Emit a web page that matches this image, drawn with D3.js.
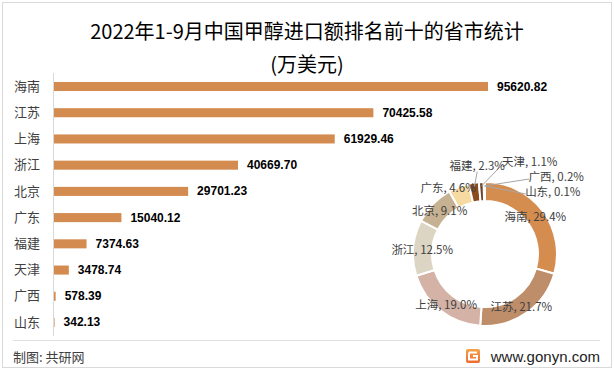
<!DOCTYPE html>
<html>
<head>
<meta charset="utf-8">
<script src="https://cdn.jsdelivr.net/npm/d3@7"></script>
<style>
  body { margin: 0; background: #fff; }
  svg { display: block; }
</style>
</head>
<body>
<div id="chart"></div>
<script>
/////////////////////////////////////////////////
/* Data */
/////////////////////////////////////////////////
const provinces = ["海南", "江苏", "上海", "浙江", "北京", "广东", "福建", "天津", "广西", "山东"];
const importValues = [95620.82, 70425.58, 61929.46, 40669.70, 29701.23, 15040.12, 7374.63, 3478.74, 578.39, 342.13];
const donutColors = ["#D58C4F", "#BE8D6A", "#D4B2A5", "#DDD5C3", "#C6B192", "#F7DAA2", "#8C4B1D", "#6E4224", "#A86B3C", "#C9A27E"];

const titleText = "2022年1-9月中国甲醇进口额排名前十的省市统计";
const unitText = "(万美元)";
const sourceText = "制图: 共研网";
const siteText = "www.gonyn.com";

/////////////////////////////////////////////////
/* Layout */
/////////////////////////////////////////////////
const W = 614, H = 371;
const FONT = "'Noto Sans CJK SC', 'Noto Sans', sans-serif";
const BAR_COLOR = "#D48B50";
const TEXT_COLOR = "#404040";

// label nudges for the crowded small slices (px from ring centroid)
const labelNudge = {
  "广东": {dx: -14, dy: -8},
  "福建": {dx: 2, dy: -27, lead: "bottom"},
  "天津": {dx: 48, dy: -30, lead: "left"},
  "广西": {dx: 72, dy: -15, lead: "left"},
  "山东": {dx: 68, dy: 0, lead: "left"}
};

const svg = d3.select("#chart").append("svg")
  .attr("width", W)
  .attr("height", H);

// outer frame
svg.append("rect")
  .attr("x", 2.5).attr("y", 2.5)
  .attr("width", W - 5).attr("height", H - 6)
  .attr("fill", "#fff")
  .attr("stroke", "#d9d9d9");

// title
svg.append("text")
  .attr("x", 307).attr("y", 30)
  .attr("text-anchor", "middle")
  .attr("dominant-baseline", "central")
  .attr("font-family", FONT)
  .attr("font-size", 20)
  .attr("fill", "#000")
  .text(titleText);

svg.append("text")
  .attr("x", 307).attr("y", 63)
  .attr("text-anchor", "middle")
  .attr("dominant-baseline", "central")
  .attr("font-family", FONT)
  .attr("font-size", 20)
  .attr("fill", "#000")
  .text(unitText);

/////////////////////////////////////////////////
/* Bar chart */
/////////////////////////////////////////////////
const barData = provinces.map((p, i) => ({name: p, value: importValues[i]}));

const x = d3.scaleLinear()
  .domain([0, d3.max(importValues)])
  .range([53, 488]);

const y = d3.scaleBand()
  .domain(provinces)
  .range([73.4, 335.6])
  .paddingInner(0.655)
  .paddingOuter(0.3275);

const bars = svg.append("g").attr("id", "bars");

bars.selectAll("rect")
  .data(barData)
  .enter()
  .append("rect")
  .attr("x", x(0))
  .attr("y", d => y(d.name))
  .attr("width", d => Math.max(1, x(d.value) - x(0)))
  .attr("height", y.bandwidth())
  .attr("fill", BAR_COLOR);

bars.selectAll(".val")
  .data(barData)
  .enter()
  .append("text")
  .attr("class", "val")
  .attr("x", d => x(d.value) + 9)
  .attr("y", d => y(d.name) + y.bandwidth() / 2)
  .attr("dominant-baseline", "central")
  .attr("font-family", "'Liberation Sans', Arial, sans-serif")
  .attr("font-weight", "bold")
  .attr("font-size", 12)
  .attr("fill", "#000")
  .text(d => d3.format(".2f")(d.value));

// category axis
const yAxis = svg.append("g")
  .attr("transform", "translate(53,0)")
  .call(d3.axisLeft(y).tickSize(0).tickPadding(13));

yAxis.select(".domain")
  .attr("d", "M0.5,73V336")
  .attr("stroke", "#d9d9d9");

yAxis.selectAll("text")
  .attr("font-family", FONT)
  .attr("font-size", 13)
  .attr("fill", TEXT_COLOR);

/////////////////////////////////////////////////
/* Donut */
/////////////////////////////////////////////////
const cx = 485, cy = 254;
const outerR = 72, innerR = 53;

const pie = d3.pie().sort(null).value(d => d.value);
const arcs = pie(barData);
const total = d3.sum(importValues);

const arc = d3.arc().innerRadius(innerR).outerRadius(outerR);
const midArc = d3.arc().innerRadius((innerR + outerR) / 2 + 0.5).outerRadius((innerR + outerR) / 2 + 0.5);
const leadArc = d3.arc().innerRadius(outerR - 4).outerRadius(outerR - 4);

const donut = svg.append("g")
  .attr("transform", `translate(${cx},${cy})`);

donut.selectAll("path")
  .data(arcs)
  .enter()
  .append("path")
  .attr("d", arc)
  .attr("fill", (d, i) => donutColors[i])
  .attr("stroke", "#fff")
  .attr("stroke-width", 2);

const labelPos = d => {
  let [lx, ly] = midArc.centroid(d);
  const n = labelNudge[d.data.name];
  if (n) { lx += n.dx; ly += n.dy; }
  return [lx, ly];
};

const labelText = d => d.data.name + ", " + d3.format(".1%")(d.data.value / total);

// leader lines for small slices
donut.selectAll(".lead")
  .data(arcs.filter(d => labelNudge[d.data.name] && labelNudge[d.data.name].lead))
  .enter()
  .append("line")
  .attr("class", "lead")
  .attr("x1", d => leadArc.centroid(d)[0])
  .attr("y1", d => leadArc.centroid(d)[1])
  .attr("x2", d => {
    const [lx] = labelPos(d);
    return labelNudge[d.data.name].lead === "left" ? lx - 27 : lx;
  })
  .attr("y2", d => {
    const [, ly] = labelPos(d);
    return labelNudge[d.data.name].lead === "left" ? ly + 3 : ly + 7;
  })
  .attr("stroke", "#a6a6a6")
  .attr("stroke-width", 1);

donut.selectAll(".plabel")
  .data(arcs)
  .enter()
  .append("text")
  .attr("class", "plabel")
  .attr("x", d => labelPos(d)[0])
  .attr("y", d => labelPos(d)[1])
  .attr("text-anchor", "middle")
  .attr("dominant-baseline", "central")
  .attr("font-family", FONT)
  .attr("font-size", 11.5)
  .attr("fill", TEXT_COLOR)
  .text(labelText);

/////////////////////////////////////////////////
/* Footer */
/////////////////////////////////////////////////
svg.append("line")
  .attr("x1", 13).attr("x2", 600)
  .attr("y1", 340.5).attr("y2", 340.5)
  .attr("stroke", "#e0e0e0");

svg.append("text")
  .attr("x", 13).attr("y", 356)
  .attr("dominant-baseline", "central")
  .attr("font-family", FONT)
  .attr("font-size", 13)
  .attr("fill", TEXT_COLOR)
  .text(sourceText);

// small site logo
const grad = svg.append("defs").append("linearGradient")
  .attr("id", "logoGrad").attr("x1", 0).attr("y1", 0).attr("x2", 0).attr("y2", 1);
grad.append("stop").attr("offset", "0%").attr("stop-color", "#F7A24A");
grad.append("stop").attr("offset", "100%").attr("stop-color", "#EE6B2F");

svg.append("rect")
  .attr("x", 466).attr("y", 349)
  .attr("width", 14).attr("height", 14)
  .attr("rx", 2)
  .attr("fill", "url(#logoGrad)");
svg.append("path")
  .attr("d", "M469,352.5h8M469,352.5v7h8v-3.5h-4")
  .attr("fill", "none")
  .attr("stroke", "#fff")
  .attr("stroke-width", 2);

svg.append("text")
  .attr("x", 600).attr("y", 356)
  .attr("text-anchor", "end")
  .attr("dominant-baseline", "central")
  .attr("font-family", "'Liberation Sans', Arial, sans-serif")
  .attr("font-size", 15)
  .attr("fill", "#222")
  .text(siteText);
</script>
</body>
</html>
